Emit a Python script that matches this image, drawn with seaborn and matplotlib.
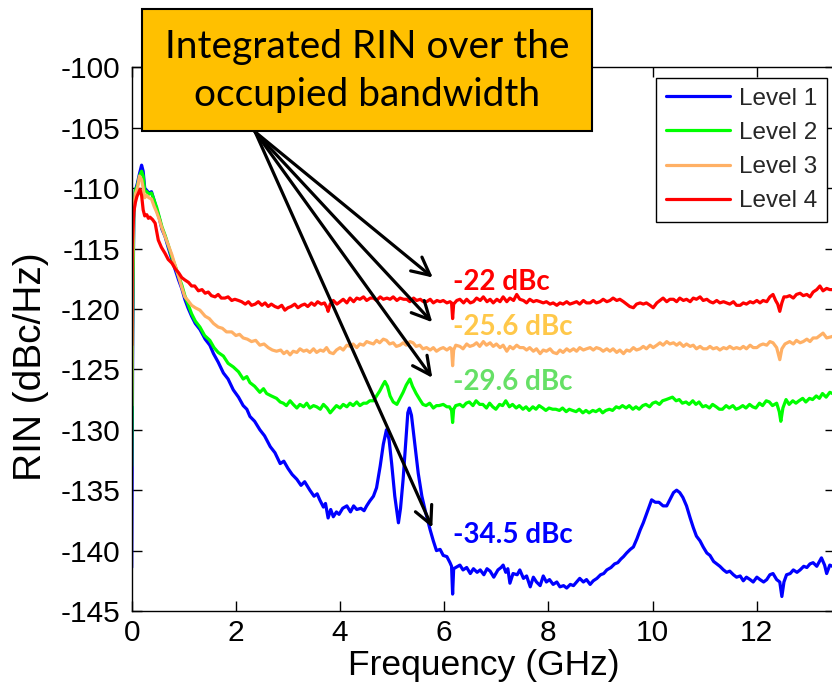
import matplotlib
matplotlib.use("Agg")
import matplotlib.pyplot as plt
from matplotlib.patches import Rectangle
import numpy as np
import pandas as pd
import seaborn as sns

# ---------------------------------------------------------------- data
level_names = ["Level 1", "Level 2", "Level 3", "Level 4"]
level_colors = ["#0000FF", "#00FF00", "#FFB065", "#FF0000"]

freq_l1 = [0.0, 0.02, 0.04, 0.07, 0.11, 0.15, 0.19, 0.22, 0.25, 0.29, 0.33, 0.38, 0.43, 0.48, 0.53, 0.58,
           0.64, 0.70, 0.77, 0.84, 0.90, 0.96, 1.02, 1.08, 1.15, 1.22, 1.31, 1.41, 1.50, 1.57, 1.66, 1.76,
           1.85, 1.95, 2.05, 2.14, 2.21, 2.27, 2.36, 2.46, 2.55, 2.66, 2.75, 2.85, 2.92, 3.00, 3.08, 3.17,
           3.25, 3.32, 3.42, 3.50, 3.56, 3.61, 3.68, 3.72, 3.77, 3.82, 3.87, 3.93, 3.98, 4.05, 4.13, 4.20,
           4.26, 4.32, 4.40, 4.46, 4.51, 4.57, 4.64, 4.70, 4.77, 4.83, 4.89, 4.94, 4.99, 5.05, 5.12, 5.16,
           5.21, 5.26, 5.30, 5.33, 5.37, 5.44, 5.50, 5.57, 5.64, 5.73, 5.79, 5.85, 5.92, 5.98, 6.05, 6.11,
           6.14, 6.16, 6.18, 6.22, 6.30, 6.36, 6.43, 6.50, 6.56, 6.63, 6.69, 6.76, 6.82, 6.88, 6.95, 7.03,
           7.09, 7.13, 7.18, 7.22, 7.26, 7.32, 7.40, 7.45, 7.52, 7.58, 7.65, 7.71, 7.77, 7.84, 7.90, 7.96,
           8.02, 8.09, 8.16, 8.22, 8.29, 8.35, 8.42, 8.48, 8.54, 8.60, 8.67, 8.73, 8.80, 8.86, 8.93, 9.00,
           9.06, 9.12, 9.20, 9.27, 9.33, 9.39, 9.44, 9.50, 9.57, 9.63, 9.70, 9.76, 9.82, 9.88, 9.93, 9.98,
           10.05, 10.12, 10.20, 10.27, 10.33, 10.40, 10.46, 10.52, 10.58, 10.65, 10.72, 10.78, 10.84, 10.91,
           10.97, 11.04, 11.10, 11.17, 11.23, 11.29, 11.36, 11.42, 11.48, 11.55, 11.61, 11.68, 11.74, 11.80,
           11.87, 11.93, 12.00, 12.06, 12.13, 12.19, 12.25, 12.31, 12.38, 12.44, 12.48, 12.52, 12.57, 12.64,
           12.70, 12.77, 12.83, 12.90, 12.96, 13.02, 13.08, 13.15, 13.24, 13.30, 13.34, 13.40, 13.50]
rin_l1 = [-141.4, -122.0, -112.5, -110.2, -109.6, -108.8, -108.1, -108.6, -110.0, -110.2, -110.4, -110.3,
          -111.0, -111.8, -112.5, -113.4, -114.0, -114.9, -115.9, -116.8, -117.6, -118.3, -119.2, -119.9,
          -120.6, -121.2, -121.7, -122.5, -123.0, -123.7, -124.4, -125.3, -125.8, -126.7, -127.3, -128.0,
          -128.3, -128.9, -129.3, -130.0, -130.5, -131.4, -131.9, -132.8, -132.6, -133.2, -133.7, -134.1,
          -134.6, -134.3, -135.0, -135.5, -135.3, -135.8, -136.4, -136.1, -137.3, -136.6, -137.2, -136.8,
          -137.0, -136.5, -136.3, -136.8, -136.3, -136.6, -136.5, -136.7, -136.3, -135.9, -135.5, -134.8,
          -133.0, -131.2, -130.0, -130.8, -132.8, -135.5, -137.7, -136.5, -134.1, -131.0, -128.6, -128.2,
          -128.8, -131.4, -133.6, -135.5, -136.8, -138.3, -139.2, -140.0, -139.9, -140.4, -140.5, -141.0,
          -141.3, -143.6, -141.5, -141.4, -141.2, -141.6, -141.4, -141.9, -141.5, -141.8, -141.6, -142.0,
          -141.5, -141.7, -142.2, -141.6, -141.4, -141.2, -141.8, -141.5, -142.7, -141.9, -142.0, -141.6,
          -142.3, -142.1, -143.0, -142.2, -142.6, -142.9, -142.1, -142.6, -142.4, -142.8, -142.6, -143.0,
          -142.9, -143.1, -142.8, -142.9, -142.6, -142.3, -142.6, -142.4, -142.8, -142.5, -142.3, -142.0,
          -141.9, -141.6, -141.4, -141.1, -141.0, -140.7, -140.5, -140.2, -139.9, -139.7, -139.0, -138.3,
          -137.7, -137.0, -136.4, -135.8, -136.0, -136.0, -136.3, -136.3, -135.8, -135.2, -135.0, -135.2,
          -135.6, -136.3, -137.3, -138.1, -138.8, -139.2, -139.7, -140.2, -140.4, -140.9, -141.1, -141.3,
          -141.6, -141.8, -141.7, -142.0, -142.2, -142.1, -142.5, -142.2, -142.4, -142.6, -142.2, -142.4,
          -142.6, -142.4, -142.0, -141.9, -142.4, -142.6, -143.8, -142.6, -142.0, -141.9, -141.6, -141.8,
          -141.6, -141.3, -141.4, -141.1, -141.0, -141.3, -140.6, -141.2, -141.9, -141.2, -141.4]

freq_l2 = [0.0, 0.02, 0.04, 0.07, 0.11, 0.15, 0.19, 0.22, 0.25, 0.29, 0.33, 0.38, 0.43, 0.48, 0.53, 0.58,
           0.64, 0.70, 0.77, 0.84, 0.90, 0.96, 1.02, 1.08, 1.15, 1.22, 1.31, 1.40, 1.50, 1.58, 1.66, 1.76,
           1.85, 1.95, 2.05, 2.14, 2.21, 2.27, 2.36, 2.46, 2.53, 2.59, 2.68, 2.78, 2.85, 2.91, 2.97, 3.04,
           3.10, 3.17, 3.23, 3.30, 3.36, 3.42, 3.49, 3.55, 3.62, 3.68, 3.75, 3.81, 3.87, 3.93, 4.00, 4.06,
           4.13, 4.19, 4.25, 4.32, 4.38, 4.45, 4.51, 4.57, 4.64, 4.70, 4.76, 4.82, 4.86, 4.91, 4.96, 5.02,
           5.09, 5.15, 5.21, 5.27, 5.34, 5.39, 5.46, 5.53, 5.59, 5.65, 5.72, 5.79, 5.85, 5.90, 5.98, 6.05,
           6.10, 6.14, 6.16, 6.18, 6.22, 6.30, 6.36, 6.42, 6.48, 6.55, 6.61, 6.68, 6.74, 6.81, 6.87, 6.93,
           6.99, 7.06, 7.12, 7.18, 7.25, 7.31, 7.38, 7.44, 7.51, 7.57, 7.63, 7.70, 7.76, 7.82, 7.89, 7.95,
           8.01, 8.08, 8.14, 8.21, 8.27, 8.34, 8.40, 8.46, 8.53, 8.59, 8.66, 8.72, 8.78, 8.85, 8.91, 8.98,
           9.04, 9.10, 9.17, 9.23, 9.30, 9.36, 9.42, 9.49, 9.55, 9.62, 9.68, 9.74, 9.81, 9.87, 9.94, 10.00,
           10.06, 10.13, 10.19, 10.26, 10.32, 10.38, 10.45, 10.51, 10.57, 10.64, 10.70, 10.77, 10.83, 10.89,
           10.96, 11.02, 11.09, 11.15, 11.22, 11.28, 11.34, 11.41, 11.47, 11.54, 11.60, 11.66, 11.73, 11.79,
           11.86, 11.92, 11.98, 12.05, 12.11, 12.18, 12.24, 12.30, 12.38, 12.43, 12.46, 12.50, 12.56, 12.62,
           12.69, 12.75, 12.81, 12.88, 12.94, 13.01, 13.07, 13.14, 13.20, 13.26, 13.33, 13.40, 13.50]
rin_l2 = [-133.0, -120.0, -112.0, -110.2, -109.8, -109.0, -108.6, -109.0, -110.2, -110.3, -110.5, -110.4,
          -111.0, -111.6, -112.4, -113.2, -113.9, -114.7, -115.7, -116.5, -117.3, -118.0, -118.9, -119.6,
          -120.4, -121.0, -121.5, -122.2, -122.6, -123.2, -123.6, -123.9, -124.5, -124.8, -125.2, -125.8,
          -125.6, -126.1, -126.4, -126.9, -126.6, -127.0, -127.2, -127.4, -127.7, -127.8, -128.0, -127.6,
          -127.9, -128.2, -127.9, -128.1, -127.8, -128.2, -128.0, -128.1, -128.3, -127.9, -128.2, -128.6,
          -128.3, -128.0, -128.2, -127.9, -128.1, -127.8, -128.0, -127.7, -128.0, -127.8, -127.8, -127.6,
          -127.6, -127.2, -126.8, -126.3, -126.0, -126.4, -127.2, -127.7, -127.9, -127.4, -126.9, -126.3,
          -125.8, -126.4, -127.0, -127.5, -127.9, -128.0, -127.8, -128.2, -128.0, -128.0, -127.9, -128.1,
          -128.1, -128.4, -129.4, -128.3, -128.0, -127.9, -128.1, -127.8, -127.7, -128.0, -127.6, -127.9,
          -127.9, -128.2, -127.8, -128.1, -128.3, -127.9, -128.0, -127.6, -128.1, -127.9, -128.2, -128.0,
          -128.3, -128.1, -128.4, -128.1, -128.3, -128.0, -128.2, -128.4, -128.2, -128.3, -128.3, -128.4,
          -128.2, -128.5, -128.3, -128.4, -128.5, -128.3, -128.6, -128.4, -128.6, -128.4, -128.5, -128.3,
          -128.6, -128.4, -128.3, -128.4, -128.1, -128.2, -128.0, -128.2, -128.0, -128.3, -128.1, -128.3,
          -128.0, -127.9, -128.1, -127.8, -127.7, -127.9, -127.6, -127.5, -127.4, -127.3, -127.6, -127.5,
          -127.8, -127.7, -127.9, -127.6, -127.9, -127.7, -128.1, -128.0, -128.2, -127.9, -128.1, -128.3,
          -128.3, -128.0, -128.2, -128.0, -128.3, -128.2, -128.0, -128.2, -127.9, -128.1, -128.2, -127.8,
          -128.0, -127.6, -127.7, -128.0, -127.8, -128.5, -129.3, -128.2, -127.5, -127.9, -127.6, -127.8,
          -127.6, -127.4, -127.7, -127.4, -127.5, -127.2, -127.4, -127.0, -127.3, -126.9, -127.1]

freq_l3 = [0.0, 0.02, 0.04, 0.07, 0.11, 0.15, 0.19, 0.22, 0.25, 0.29, 0.33, 0.38, 0.43, 0.48, 0.53, 0.58,
           0.64, 0.70, 0.77, 0.84, 0.90, 0.96, 1.02, 1.08, 1.15, 1.22, 1.31, 1.41, 1.49, 1.57, 1.66, 1.74,
           1.82, 1.92, 2.00, 2.07, 2.14, 2.22, 2.30, 2.38, 2.46, 2.54, 2.62, 2.70, 2.78, 2.86, 2.92, 2.98,
           3.04, 3.10, 3.17, 3.23, 3.30, 3.36, 3.42, 3.49, 3.55, 3.62, 3.68, 3.74, 3.80, 3.87, 3.93, 4.00,
           4.06, 4.13, 4.19, 4.25, 4.32, 4.38, 4.45, 4.51, 4.57, 4.64, 4.70, 4.76, 4.83, 4.89, 4.95, 5.02,
           5.08, 5.15, 5.21, 5.27, 5.34, 5.40, 5.46, 5.53, 5.59, 5.66, 5.73, 5.79, 5.85, 5.92, 5.98, 6.05,
           6.11, 6.14, 6.16, 6.18, 6.22, 6.30, 6.36, 6.43, 6.49, 6.56, 6.62, 6.68, 6.75, 6.81, 6.88, 6.94,
           7.00, 7.07, 7.13, 7.20, 7.26, 7.32, 7.39, 7.45, 7.52, 7.58, 7.64, 7.71, 7.77, 7.84, 7.90, 7.96,
           8.03, 8.09, 8.16, 8.22, 8.28, 8.35, 8.41, 8.48, 8.54, 8.60, 8.67, 8.73, 8.80, 8.86, 8.92, 8.99,
           9.05, 9.12, 9.18, 9.24, 9.31, 9.37, 9.44, 9.50, 9.56, 9.63, 9.69, 9.76, 9.82, 9.88, 9.95, 10.01,
           10.08, 10.14, 10.20, 10.27, 10.33, 10.40, 10.46, 10.52, 10.59, 10.65, 10.72, 10.78, 10.84, 10.91,
           10.97, 11.04, 11.10, 11.16, 11.23, 11.29, 11.36, 11.42, 11.48, 11.55, 11.61, 11.68, 11.74, 11.80,
           11.87, 11.93, 12.00, 12.06, 12.12, 12.19, 12.25, 12.31, 12.38, 12.44, 12.48, 12.54, 12.63, 12.70,
           12.76, 12.83, 12.89, 12.96, 13.02, 13.08, 13.15, 13.21, 13.27, 13.34, 13.43, 13.50]
rin_l3 = [-128.0, -116.0, -111.5, -110.5, -110.0, -109.0, -109.3, -110.0, -110.8, -110.6, -110.8, -110.9,
          -111.5, -112.0, -112.6, -113.3, -114.0, -114.7, -115.5, -116.5, -117.3, -118.2, -119.0, -119.3,
          -119.7, -119.9, -120.1, -120.6, -120.8, -121.2, -121.5, -121.6, -121.9, -121.9, -122.2, -122.1,
          -122.4, -122.5, -122.7, -122.6, -123.0, -122.9, -123.2, -123.4, -123.5, -123.4, -123.7, -123.5,
          -123.8, -123.5, -123.6, -123.3, -123.5, -123.4, -123.6, -123.3, -123.6, -123.4, -123.5, -123.2,
          -123.6, -123.7, -123.4, -123.2, -123.4, -123.0, -123.1, -122.9, -123.2, -122.9, -123.0, -122.7,
          -122.8, -122.9, -122.6, -122.8, -122.5, -122.6, -122.9, -122.8, -123.1, -123.0, -122.8, -123.0,
          -122.7, -122.8, -123.1, -123.0, -123.3, -123.2, -123.4, -123.2, -123.5, -123.3, -123.2, -123.4,
          -123.2, -123.3, -124.7, -123.4, -123.0, -123.1, -123.3, -122.9, -123.1, -123.0, -122.8, -123.1,
          -122.7, -123.0, -122.8, -123.1, -122.9, -123.2, -123.0, -123.5, -123.1, -123.3, -123.0, -123.2,
          -123.2, -123.4, -123.2, -123.5, -123.3, -123.7, -123.4, -123.5, -123.3, -123.6, -123.7, -123.4,
          -123.6, -123.3, -123.5, -123.3, -123.5, -123.2, -123.4, -123.3, -123.2, -123.4, -123.2, -123.3,
          -123.5, -123.3, -123.5, -123.3, -123.6, -123.4, -123.7, -123.4, -123.5, -123.2, -123.4, -123.3,
          -123.1, -123.3, -123.0, -123.2, -123.0, -122.8, -123.0, -122.7, -122.9, -122.8, -123.0, -122.8,
          -123.1, -122.9, -123.1, -123.0, -123.3, -123.1, -123.3, -123.3, -123.1, -123.3, -123.2, -123.4,
          -123.2, -123.3, -123.1, -123.3, -123.2, -123.3, -123.1, -123.3, -123.0, -123.2, -123.2, -123.0,
          -122.9, -123.0, -122.7, -122.8, -123.2, -124.2, -123.3, -122.9, -122.7, -122.9, -122.6, -122.8,
          -122.7, -122.5, -122.7, -122.4, -122.4, -122.2, -122.0, -122.4, -122.3, -122.2]

freq_l4 = [0.0, 0.01, 0.04, 0.07, 0.10, 0.13, 0.16, 0.19, 0.22, 0.25, 0.29, 0.32, 0.35, 0.40, 0.45, 0.48,
           0.51, 0.57, 0.64, 0.70, 0.77, 0.84, 0.90, 0.96, 1.02, 1.09, 1.15, 1.21, 1.28, 1.35, 1.41, 1.47,
           1.53, 1.60, 1.66, 1.72, 1.79, 1.85, 1.92, 1.98, 2.05, 2.11, 2.18, 2.24, 2.30, 2.37, 2.43, 2.50,
           2.56, 2.62, 2.68, 2.75, 2.81, 2.88, 2.94, 3.00, 3.06, 3.13, 3.19, 3.26, 3.32, 3.38, 3.45, 3.51,
           3.57, 3.64, 3.70, 3.75, 3.77, 3.81, 3.87, 3.94, 4.00, 4.06, 4.13, 4.19, 4.26, 4.32, 4.38, 4.45,
           4.51, 4.58, 4.64, 4.70, 4.77, 4.83, 4.90, 4.96, 5.02, 5.09, 5.15, 5.22, 5.28, 5.34, 5.41, 5.47,
           5.54, 5.60, 5.66, 5.73, 5.79, 5.86, 5.92, 5.98, 6.05, 6.11, 6.14, 6.16, 6.18, 6.24, 6.30, 6.37,
           6.43, 6.50, 6.56, 6.62, 6.69, 6.75, 6.82, 6.88, 6.94, 7.01, 7.07, 7.13, 7.20, 7.26, 7.33, 7.39,
           7.45, 7.52, 7.58, 7.64, 7.71, 7.77, 7.84, 7.90, 7.96, 8.03, 8.09, 8.16, 8.22, 8.28, 8.35, 8.41,
           8.48, 8.54, 8.60, 8.67, 8.73, 8.80, 8.86, 8.92, 8.99, 9.05, 9.12, 9.18, 9.24, 9.31, 9.37, 9.44,
           9.50, 9.56, 9.63, 9.69, 9.76, 9.82, 9.88, 9.95, 10.01, 10.08, 10.14, 10.20, 10.27, 10.33, 10.40,
           10.46, 10.52, 10.59, 10.65, 10.72, 10.78, 10.84, 10.91, 10.97, 11.04, 11.10, 11.16, 11.23, 11.29,
           11.36, 11.42, 11.48, 11.55, 11.61, 11.68, 11.74, 11.80, 11.87, 11.93, 12.00, 12.06, 12.12, 12.19,
           12.25, 12.31, 12.36, 12.40, 12.44, 12.48, 12.52, 12.57, 12.63, 12.70, 12.76, 12.83, 12.89, 12.96,
           13.02, 13.08, 13.15, 13.21, 13.27, 13.34, 13.40, 13.50]
rin_l4 = [-123.0, -114.8, -112.0, -111.2, -110.7, -110.4, -110.1, -110.6, -111.8, -112.3, -112.2, -112.5,
          -112.4, -112.6, -112.9, -113.6, -114.3, -114.9, -115.4, -115.9, -116.2, -116.7, -117.0, -117.4,
          -117.6, -117.8, -118.1, -118.1, -118.5, -118.4, -118.7, -118.6, -118.9, -119.0, -118.8, -119.1,
          -119.1, -119.0, -119.3, -119.2, -119.3, -119.4, -119.6, -119.4, -119.7, -119.6, -119.4, -119.7,
          -119.5, -119.8, -119.6, -119.8, -119.9, -119.7, -120.1, -119.9, -119.8, -119.6, -119.9, -119.7,
          -119.6, -119.8, -119.5, -119.7, -119.4, -119.6, -119.5, -119.9, -120.2, -119.6, -119.3, -119.6,
          -119.4, -119.2, -119.5, -119.1, -119.4, -119.1, -119.2, -119.0, -119.3, -119.1, -119.1, -119.3,
          -119.0, -119.2, -119.1, -119.2, -119.0, -119.3, -119.1, -119.2, -119.2, -119.4, -119.1, -119.3,
          -119.2, -119.4, -119.4, -119.2, -119.5, -119.3, -119.4, -119.3, -119.5, -119.4, -119.5, -120.8,
          -119.6, -119.3, -119.2, -119.5, -119.2, -119.5, -119.4, -119.1, -119.3, -119.0, -119.4, -119.2,
          -119.5, -119.2, -119.4, -119.0, -119.4, -119.1, -119.3, -118.8, -119.2, -119.3, -119.5, -119.2,
          -119.4, -119.3, -119.4, -119.5, -119.4, -119.6, -119.5, -119.7, -119.5, -119.6, -119.4, -119.6,
          -119.5, -119.4, -119.6, -119.3, -119.5, -119.5, -119.3, -119.5, -119.4, -119.2, -119.4, -119.3,
          -119.1, -119.3, -119.2, -119.4, -119.6, -119.8, -119.9, -119.6, -119.5, -119.6, -119.5, -119.7,
          -119.9, -119.5, -119.3, -119.1, -119.4, -119.2, -119.2, -119.4, -119.1, -119.3, -119.2, -119.4,
          -119.1, -119.2, -119.0, -119.3, -119.2, -119.4, -119.5, -119.3, -119.5, -119.4, -119.5, -119.6,
          -119.4, -119.7, -119.7, -119.5, -119.6, -119.4, -119.5, -119.3, -119.5, -119.3, -119.4, -119.0,
          -118.8, -119.3, -119.6, -120.2, -119.5, -119.0, -119.0, -118.9, -119.1, -118.8, -118.7, -118.9,
          -118.8, -119.0, -118.6, -118.4, -118.1, -118.5, -118.3, -118.4, -118.4]

# integrated RIN values and where each label sits (GHz, dBc/Hz at text baseline)
integrated_labels = ["-22 dBc", "-25.6 dBc", "-29.6 dBc", "-34.5 dBc"]
label_colors = ["#FF0000", "#FFC84A", "#66E066", "#0000FF"]
label_x = [6.17, 6.16, 6.16, 6.16]
label_y = [-118.45, -122.15, -126.75, -139.35]
arrow_tail = (2.37, -105.35)
arrow_tips_x = [5.78, 5.77, 5.77, 5.77]
arrow_tips_y = [-117.4, -121.1, -125.7, -138.1]

xticks = [0, 2, 4, 6, 8, 10, 12]
yticks = [-145, -140, -135, -130, -125, -120, -115, -110, -105, -100]

# ---------------------------------------------------------------- frame
frames = []
for name, f, r in zip(level_names,
                      [freq_l1, freq_l2, freq_l3, freq_l4],
                      [rin_l1, rin_l2, rin_l3, rin_l4]):
    frames.append(pd.DataFrame({"Frequency": f, "RIN": r, "Level": name}))
df = pd.concat(frames, ignore_index=True)

sns.set_style("ticks")
plt.rcParams["font.family"] = ["Liberation Sans", "DejaVu Sans"]
plt.rcParams["axes.linewidth"] = 1.0

W, H = 832, 692
fig = plt.figure(figsize=(W / 100, H / 100), dpi=100)
fig.patch.set_facecolor("white")

# axes box in pixel units (right edge runs just past the canvas)
ax_l, ax_r, ax_t, ax_b = 131.7, 835.0, 67.3, 611.0
ax = fig.add_axes([ax_l / W, 1 - ax_b / H, (ax_r - ax_l) / W, (ax_b - ax_t) / H])

sns.lineplot(data=df, x="Frequency", y="RIN", hue="Level", hue_order=level_names,
             palette=dict(zip(level_names, level_colors)), estimator=None, sort=False,
             linewidth=2.3, ax=ax, legend=True)

ax.set_xlim(0, 13.5)
ax.set_ylim(-145, -100)
ax.set_xticks(xticks)
ax.set_yticks(yticks)
ax.set_xticklabels([str(t) for t in xticks])
ax.set_yticklabels([str(t) for t in yticks])
ax.tick_params(direction="in", length=7, width=1.0, top=True, right=True,
               labelsize=21.5, colors="black", pad=6)
ax.tick_params(axis="y", pad=8)
for sp in ax.spines.values():
    sp.set_visible(True)
    sp.set_color("black")
    sp.set_linewidth(1.0)

ax.set_xlabel("Frequency (GHz)", fontsize=25.5, color="black")
ax.set_ylabel("RIN (dBc/Hz)", fontsize=28, color="black")
ax.xaxis.set_label_coords(0.5, -0.07)
ax.yaxis.set_label_coords(-0.118, 0.45)

# legend
handles, labels = ax.get_legend_handles_labels()
leg = ax.legend(handles, labels, loc="upper right",
                bbox_to_anchor=(826.5 / W, 1 - 78 / H), bbox_transform=fig.transFigure,
                borderaxespad=0, frameon=True, fancybox=False, framealpha=1,
                edgecolor="black", fontsize=17.5, handlelength=2.65, handletextpad=0.35,
                labelspacing=0.5, borderpad=0.4, title=None)
leg.get_frame().set_linewidth(1.0)
for line in leg.get_lines():
    line.set_linewidth(2.3)

# arrows from the callout to the integrated RIN figures
for tx, ty in zip(arrow_tips_x, arrow_tips_y):
    ax.annotate("", xy=(tx, ty), xytext=arrow_tail, annotation_clip=False,
                arrowprops=dict(arrowstyle="->", color="black", lw=2.3,
                                mutation_scale=32, shrinkA=0, shrinkB=0))

for txt, c, x, y in zip(integrated_labels, label_colors, label_x, label_y):
    ax.text(x, y, txt, color=c, fontsize=20, fontweight="bold", family=["Lato", "DejaVu Sans"],
            ha="left", va="baseline")

# callout box
box_l, box_r, box_t, box_b = 142, 592, 9, 131
fig.add_artist(Rectangle((box_l / W, 1 - box_b / H), (box_r - box_l) / W, (box_b - box_t) / H,
                         transform=fig.transFigure, facecolor="#FFC000", edgecolor="black",
                         linewidth=1.5, zorder=5))
fig.text((box_l + box_r) / 2 / W, 1 - 71 / H, "Integrated RIN over the\noccupied bandwidth",
         ha="center", va="center", fontsize=28, family=["Lato", "DejaVu Sans"],
         color="black", linespacing=1.4, zorder=6)

fig.savefig("out.png", dpi=100, facecolor="white")
